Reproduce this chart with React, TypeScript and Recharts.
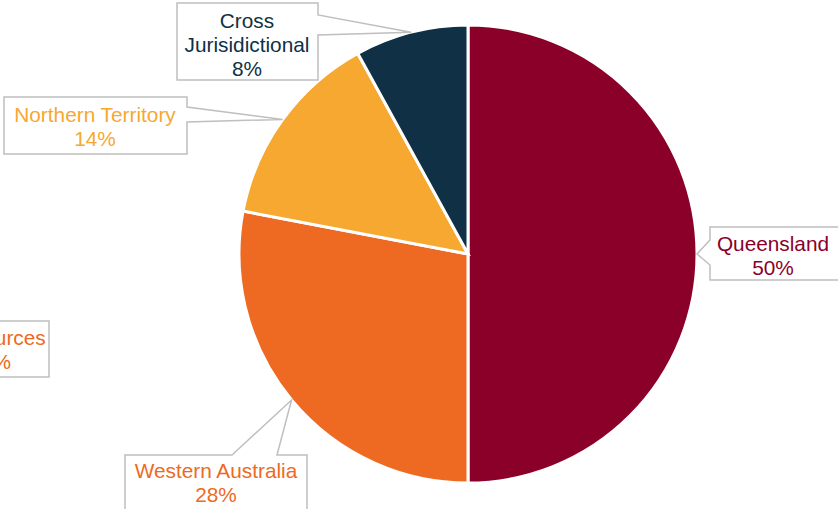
import { PieChart, Pie, Cell } from 'recharts'

// slices, clockwise from 12 o'clock
const names = ['Queensland', 'Western Australia', 'Resources', 'Northern Territory', 'Cross Jurisidictional']
const values = [50, 28, 0, 14, 8]
const COLORS = ['#8B0029', '#EE6A22', '#EE6A22', '#F6A831', '#0F3045']

// callout boxes (annotation layout, not data)
type Box = {
  x: number; y: number; w: number; h: number
  side: 'left' | 'right' | 'top' | 'none'
  b1: number; b2: number
  tx: number
  lines: string[]
  ly: number
}
const BOXES: Record<string, Box> = {
  'Queensland': { x: 710, y: 227, w: 150, h: 53, side: 'left', b1: 240, b2: 265, tx: 773, lines: ['Queensland'], ly: 243 },
  'Western Australia': { x: 125, y: 455, w: 182, h: 70, side: 'top', b1: 232, b2: 277, tx: 216, lines: ['Western Australia'], ly: 470 },
  'Resources': { x: -70, y: 321, w: 119, h: 56, side: 'none', b1: 0, b2: 0, tx: -4, lines: ['Resources'], ly: 337 },
  'Northern Territory': { x: 4, y: 97, w: 183, h: 57, side: 'right', b1: 107, b2: 122, tx: 95, lines: ['Northern Territory'], ly: 114 },
  'Cross Jurisidictional': { x: 177, y: 3, w: 141, h: 77, side: 'right', b1: 15, b2: 35, tx: 247, lines: ['Cross', 'Jurisidictional'], ly: 20 },
}

const data = names.map((name, i) => ({ name, value: values[i] }))
const RADIAN = Math.PI / 180

function calloutPath(b: Box, px: number, py: number) {
  const { x, y, w, h } = b
  if (b.side === 'right')
    return `M${x},${y}H${x + w}V${b.b1}L${px},${py}L${x + w},${b.b2}V${y + h}H${x}Z`
  if (b.side === 'left')
    return `M${x},${y}H${x + w}V${y + h}H${x}V${b.b2}L${px},${py}L${x},${b.b1}Z`
  if (b.side === 'top')
    return `M${x},${y}H${b.b1}L${px},${py}L${b.b2},${y}H${x + w}V${y + h}H${x}Z`
  return `M${x},${y}H${x + w}V${y + h}H${x}Z`
}

const renderLabel = (props: any) => {
  const { cx, cy, midAngle, outerRadius, name, percent, index } = props
  const b = BOXES[name]
  if (!b) return null
  const px = cx + outerRadius * Math.cos(-midAngle * RADIAN)
  const py = cy + outerRadius * Math.sin(-midAngle * RADIAN)
  const lines = [...b.lines, `${Math.round(percent * 100)}%`]
  return (
    <g key={`lbl-${index}`}>
      <path d={calloutPath(b, px, py)} fill="#fff" stroke="#BFBFBF" strokeWidth={1.5} />
      {lines.map((t, i) => (
        <text
          key={i}
          x={b.tx}
          y={b.ly + i * 24}
          textAnchor="middle"
          dominantBaseline="central"
          fill={COLORS[index]}
          fontSize={20.8}
          fontFamily="'Liberation Sans', Arial, sans-serif"
        >
          {t}
        </text>
      ))}
    </g>
  )
}

export default function App() {
  return (
    <div style={{ position: 'absolute', left: 0, top: 0, width: 838, height: 509, background: '#fff' }}>
      <PieChart width={838} height={509} margin={{ top: 0, right: 0, bottom: 0, left: 0 }}>
        <Pie
          data={data}
          dataKey="value"
          nameKey="name"
          cx={468}
          cy={254}
          outerRadius={229}
          startAngle={90}
          endAngle={-270}
          stroke="#fff"
          strokeWidth={3}
          label={renderLabel}
          labelLine={false}
          isAnimationActive={false}
        >
          {data.map((_, i) => (
            <Cell key={i} fill={COLORS[i]} />
          ))}
        </Pie>
      </PieChart>
    </div>
  )
}
